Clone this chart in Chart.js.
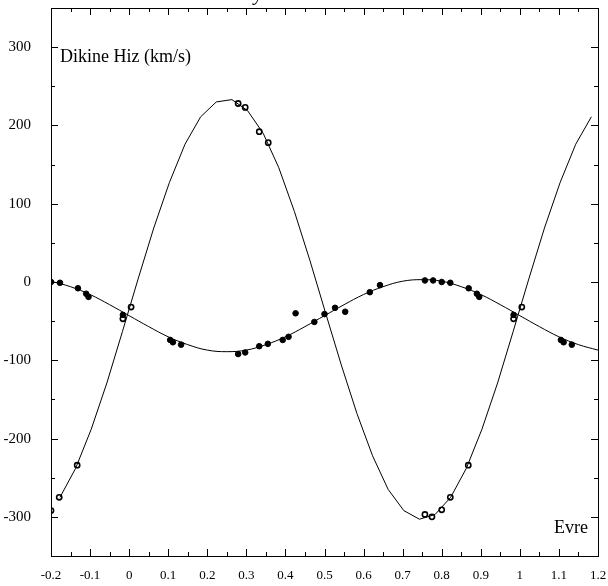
<!DOCTYPE html>
<html lang="tr">
<head>
  <meta charset="UTF-8">
  <title>Dikine Hiz Egrisi</title>
  <script src="https://cdn.jsdelivr.net/npm/chart.js"></script>
  <style>
    body {
      margin: 0;
      padding: 0;
      background: #fff;
    }
    #wrap {
      width: 608px;
      height: 586px;
    }
  </style>
</head>
<body>
  <div id="wrap">
    <canvas id="rvChart" width="608" height="586"></canvas>
  </div>

  <script>
    // fitted curve of the primary (big amplitude)
    const bigCurvePhase = [-0.177, -0.137, -0.097, -0.057, -0.017, 0.023, 0.063, 0.103, 0.143, 0.183,
      0.223, 0.263, 0.303, 0.343, 0.383, 0.423, 0.463, 0.503, 0.543, 0.583, 0.623, 0.663, 0.703,
      0.743, 0.783, 0.823, 0.863, 0.903, 0.943, 0.983, 1.023, 1.063, 1.103, 1.143, 1.183];
    const bigCurveVel = [-275, -238, -188, -129, -63, 4, 69, 127, 176, 211,
      230, 233, 219, 190, 146, 90, 27, -40, -106, -168, -222, -265, -292,
      -303, -297, -275, -238, -188, -129, -63, 4, 69, 127, 176, 211];

    // fitted curve of the secondary (small amplitude)
    const smallCurvePhase = [-0.2, -0.15, -0.1, -0.05, 0, 0.05, 0.1, 0.15, 0.2, 0.25, 0.3, 0.35, 0.4,
      0.45, 0.5, 0.55, 0.6, 0.65, 0.7, 0.75, 0.8, 0.85, 0.9, 0.95, 1, 1.05, 1.1, 1.15, 1.2];
    const smallCurveVel = [1, -6, -16, -29, -43, -57, -70, -80, -87, -89, -87, -80, -70,
      -57, -43, -29, -16, -6, 1, 3, 1, -6, -16, -29, -43, -57, -70, -80, -87];

    // measured velocities, open circles
    const openPhase = [-0.2, -0.179, -0.133, -0.016, 0.005, 0.279, 0.297, 0.333, 0.356,
      0.757, 0.775, 0.8, 0.822, 0.868, 0.984, 1.005];
    const openVel = [-292, -275, -234, -47, -32, 228, 223, 192, 178,
      -297, -300, -291, -275, -234, -47, -32];

    // measured velocities, filled dots
    const dotPhase = [-0.2, -0.177, -0.131, -0.110, -0.104, -0.016, 0.105, 0.112, 0.133,
      0.279, 0.297, 0.333, 0.355, 0.393, 0.408, 0.426, 0.474, 0.500, 0.527, 0.553,
      0.616, 0.642, 0.757, 0.778, 0.800, 0.822, 0.869, 0.890, 0.896, 0.984,
      1.105, 1.112, 1.133];
    const dotVel = [0, -1, -8, -15, -19, -42, -74, -77, -80,
      -92, -90, -82, -79, -74, -70, -40, -51, -41, -33, -38,
      -13, -4, 2, 2, 0, -1, -8, -15, -19, -42,
      -74, -77, -80];

    const xMin = -0.2, xMax = 1.2, xStep = 0.05;
    const yMin = -350, yMax = 350, yStep = 50;

    const serif = '"Liberation Serif", "Times New Roman", serif';

    function pairs(xs, ys) {
      return xs.map((x, i) => ({ x: x, y: ys[i] }));
    }

    function isMultiple(v, m) {
      const q = v / m;
      return Math.abs(q - Math.round(q)) < 1e-6;
    }

    // box round the plot, inward ticks on all four sides, and the texts
    const framePlugin = {
      id: 'frame',
      afterDraw(chart) {
        const ctx = chart.ctx;
        const a = chart.chartArea;
        const xs = chart.scales.x;
        const ys = chart.scales.y;
        ctx.save();
        ctx.strokeStyle = '#000';
        ctx.lineWidth = 1;
        ctx.strokeRect(Math.round(a.left) + 0.5, Math.round(a.top) + 0.5,
          Math.round(a.right - a.left), Math.round(a.bottom - a.top));

        ctx.beginPath();
        xs.ticks.forEach(t => {
          const px = Math.round(xs.getPixelForValue(t.value)) + 0.5;
          const len = isMultiple(t.value, 0.1) ? 7 : 4;
          ctx.moveTo(px, a.bottom);
          ctx.lineTo(px, a.bottom - len);
          ctx.moveTo(px, a.top);
          ctx.lineTo(px, a.top + len);
        });
        ys.ticks.forEach(t => {
          const py = Math.round(ys.getPixelForValue(t.value)) + 0.5;
          const len = isMultiple(t.value, 100) ? 7 : 4;
          ctx.moveTo(a.left, py);
          ctx.lineTo(a.left + len, py);
          ctx.moveTo(a.right, py);
          ctx.lineTo(a.right - len, py);
        });
        ctx.stroke();

        ctx.fillStyle = '#000';
        ctx.textBaseline = 'alphabetic';
        ctx.font = '18px ' + serif;
        ctx.textAlign = 'left';
        ctx.fillText('Dikine Hiz (km/s)', 60, 62);
        ctx.textAlign = 'right';
        ctx.fillText('Evre', 588, 533);

        // bottom of the cut off title
        ctx.textAlign = 'left';
        ctx.font = 'italic 20px ' + serif;
        ctx.fillText('y', 254, 0);
        ctx.restore();
      }
    };

    new Chart(document.getElementById('rvChart'), {
      type: 'scatter',
      data: {
        datasets: [
          {
            data: pairs(bigCurvePhase, bigCurveVel),
            showLine: true,
            borderColor: '#000',
            borderWidth: 1,
            pointRadius: 0,
            tension: 0
          },
          {
            data: pairs(smallCurvePhase, smallCurveVel),
            showLine: true,
            borderColor: '#000',
            borderWidth: 1,
            pointRadius: 0,
            tension: 0.4
          },
          {
            data: pairs(dotPhase, dotVel),
            pointRadius: 2.8,
            pointBackgroundColor: '#000',
            pointBorderColor: '#000',
            pointBorderWidth: 1
          },
          {
            data: pairs(openPhase, openVel),
            pointRadius: 2.6,
            pointBackgroundColor: '#fff',
            pointBorderColor: '#000',
            pointBorderWidth: 1.6
          }
        ]
      },
      options: {
        responsive: false,
        animation: false,
        devicePixelRatio: 1,
        layout: { padding: { top: 8, right: 10, left: 0, bottom: 0 } },
        plugins: {
          legend: { display: false },
          tooltip: { enabled: false }
        },
        scales: {
          x: {
            type: 'linear',
            min: xMin,
            max: xMax,
            grid: { display: false },
            border: { display: false },
            afterFit: s => {
              s.height = 30;
              s.paddingLeft = 0;
              s.paddingRight = 0;
            },
            ticks: {
              stepSize: xStep,
              autoSkip: false,
              maxRotation: 0,
              padding: 4,
              color: '#000',
              font: { family: serif, size: 13 },
              callback: v => isMultiple(v, 0.1) ? String(Math.round(v * 10) / 10) : ''
            }
          },
          y: {
            type: 'linear',
            min: yMin,
            max: yMax,
            grid: { display: false },
            border: { display: false },
            afterFit: s => {
              s.width = 51;
              s.paddingTop = 0;
              s.paddingBottom = 0;
            },
            ticks: {
              stepSize: yStep,
              autoSkip: false,
              padding: 12,
              color: '#000',
              font: { family: serif, size: 15 },
              callback: v => isMultiple(v, 100) ? String(v) : ''
            }
          }
        }
      },
      plugins: [framePlugin]
    });
  </script>
</body>
</html>
